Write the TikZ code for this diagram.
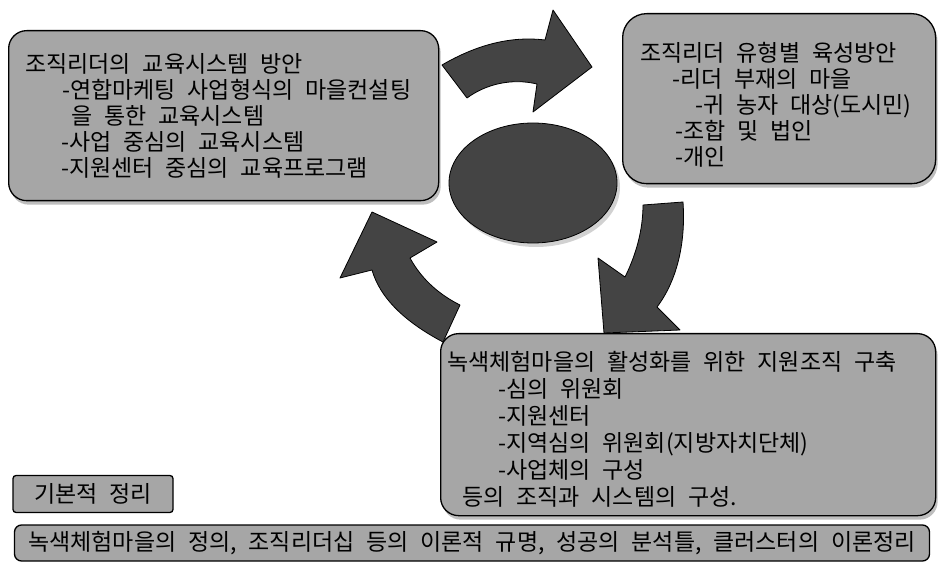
\documentclass[tikz,border=0pt]{standalone}
\usepackage{fontspec}
\setmainfont{Noto Sans CJK KR}[WordSpace=2.3]
\usetikzlibrary{shapes.geometric,shadows}
\definecolor{panelGray}{RGB}{166,166,166}
\definecolor{arrowGray}{RGB}{68,68,68}
\definecolor{shadeGray}{RGB}{125,125,125}

\begin{document}
\begin{tikzpicture}[x=1pt, y=-1pt,
    panel/.style={rectangle, rounded corners=18pt, draw=black, fill=panelGray,
                  line width=1.3pt, anchor=north west,
                  drop shadow={shadow xshift=2pt, shadow yshift=-4pt, fill=shadeGray}},
    tag/.style={rectangle, rounded corners=3pt, draw=black, fill=panelGray,
                line width=1.3pt, font=\fontsize{23}{26}\selectfont, inner sep=0pt},
    body/.style={anchor=north west, align=left, inner sep=0pt,
                 font=\fontsize{23}{26}\selectfont},
    turn/.style={fill=arrowGray, draw=black, line width=0.8pt, line join=round}
  ]
  \useasboundingbox (0,0) rectangle (938,564);

  % three panels round the centre
  \node[panel, minimum width=430pt, minimum height=170pt] (edu) at (8,30) {};
  \node[body] (edutxt) at (25,53) {조직리더의 교육시스템 방안\\
    \hspace*{37pt}-연합마케팅 사업형식의 마을컨설팅\\
    \hspace*{46pt}을 통한 교육시스템\\
    \hspace*{36pt}-사업 중심의 교육시스템\\
    \hspace*{36pt}-지원센터 중심의 교육프로그램};

  \node[panel, rounded corners=24pt, minimum width=313pt, minimum height=170pt] (type) at (622,13) {};
  \node[body] (typetxt) at (640,42) {조직리더 유형별 육성방안\\
    \hspace*{32pt}-리더 부재의 마을\\
    \hspace*{55pt}-귀 농자 대상(도시민)\\
    \hspace*{35pt}-조합 및 법인\\
    \hspace*{35pt}-개인};

  \node[panel, minimum width=495pt, minimum height=182pt] (org) at (440,333) {};
  \node[body, font=\fontsize{23}{27}\selectfont] (orgtxt) at (447,351) {녹색체험마을의 활성화를 위한 지원조직 구축\\
    \hspace*{51pt}-심의 위원회\\
    \hspace*{51pt}-지원센터\\
    \hspace*{51pt}-지역심의 위원회(지방자치단체)\\
    \hspace*{51pt}-사업체의 구성\\
    \hspace*{15pt}등의 조직과 시스템의 구성.};

  % centre
  \node[ellipse, draw=black, fill=arrowGray, line width=0.8pt,
        minimum width=168pt, minimum height=120pt,
        drop shadow={shadow xshift=3pt, shadow yshift=-4pt, fill=shadeGray!70}] (hub) at (533,183) {};

  % curved arrows
  \filldraw[turn] (442,65) .. controls (478,44) and (512,36) .. (545,40) -- (553,10) -- (592,67)
    -- (533,112) -- (537,84) .. controls (512,78) and (486,84) .. (467,98) -- cycle;
  \filldraw[turn] (643,205) -- (683,202) .. controls (686,245) and (676,282) .. (657,307)
    -- (680,330) -- (604,333) -- (598,258) -- (625,277)
    .. controls (636,255) and (643,230) .. (643,205) -- cycle;
  \filldraw[turn] (372,212) -- (437,242) -- (410,258) .. controls (422,280) and (440,295) .. (460,305)
    -- (443,342) .. controls (405,322) and (380,298) .. (372,270) -- (340,278) -- cycle;

  % base
  \node[tag, minimum width=160pt, minimum height=37pt] (basic) at (93,494) {기본적 정리};
  \node[tag, rounded corners=7pt, minimum width=915pt, minimum height=36pt] (theory) at (472,543)
    {녹색체험마을의 정의, 조직리더십 등의 이론적 규명, 성공의 분석틀, 클러스터의 이론정리};
\end{tikzpicture}
\end{document}
